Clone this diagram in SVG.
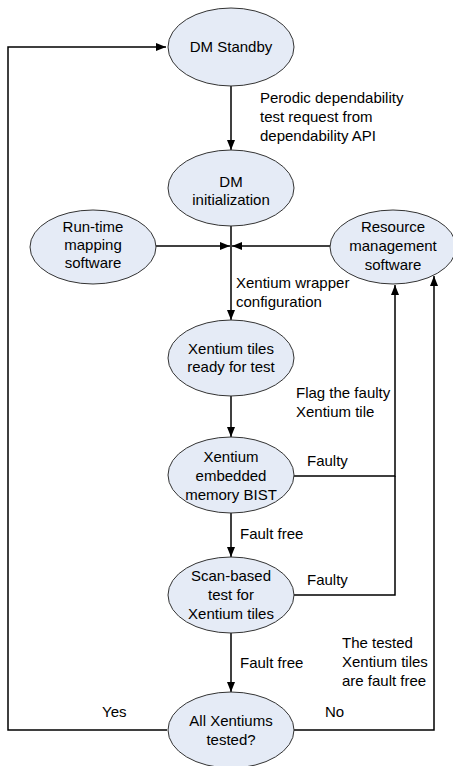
<svg xmlns="http://www.w3.org/2000/svg" width="453" height="766" viewBox="0 0 453 766">
<defs>
<marker id="arr" markerWidth="10" markerHeight="8" refX="10" refY="4" orient="auto" markerUnits="userSpaceOnUse">
<path d="M0,0 L10,4 L0,8 z" fill="#000"/>
</marker>
<style>
.node ellipse{fill:#e5ebf6;stroke:#333;stroke-width:1}
text{font-family:"Liberation Sans",Arial,sans-serif;font-size:15px;fill:#000}
.node text{text-anchor:middle}
.conn path{fill:none;stroke:#000;stroke-width:1.5}
.arrow{marker-end:url(#arr)}
</style>
</defs>
<rect width="453" height="766" fill="#fff"/>
<g id="connectors" class="conn">
<path class="arrow" d="M167,730 H8 V47 H166"/>
<path class="arrow" d="M231,86 V150"/>
<path class="arrow" d="M231,226 V320"/>
<path class="arrow" d="M156,246 H230"/>
<path class="arrow" d="M331,246 H232"/>
<path class="arrow" d="M231,396 V437"/>
<path class="arrow" d="M231,513 V557"/>
<path class="arrow" d="M231,633 V692"/>
<path class="arrow" d="M294,476 H395 V285"/>
<path d="M294,595 H395 V476"/>
<path class="arrow" d="M294,730 H434 V276"/>
</g>
<g id="labels">
<text x="260" y="103">Perodic dependability</text>
<text x="260" y="122">test request from</text>
<text x="260" y="141">dependability API</text>
<text x="236" y="288">Xentium wrapper</text>
<text x="236" y="307">configuration</text>
<text x="296" y="398">Flag the faulty</text>
<text x="296" y="417">Xentium tile</text>
<text x="307" y="466">Faulty</text>
<text x="240" y="539">Fault free</text>
<text x="307" y="585">Faulty</text>
<text x="240" y="668">Fault free</text>
<text x="342" y="648">The tested</text>
<text x="342" y="667">Xentium tiles</text>
<text x="342" y="686">are fault free</text>
<text x="102" y="717">Yes</text>
<text x="325" y="717">No</text>
</g>
<g id="dm-standby" class="node">
<ellipse cx="231" cy="47" rx="63" ry="39"/>
<text x="231" y="52">DM Standby</text>
</g>
<g id="dm-init" class="node">
<ellipse cx="231" cy="188" rx="63" ry="38"/>
<text x="231" y="187">DM</text>
<text x="231" y="205">initialization</text>
</g>
<g id="runtime" class="node">
<ellipse cx="93" cy="247" rx="63" ry="37"/>
<text x="93" y="232">Run-time</text>
<text x="93" y="250">mapping</text>
<text x="93" y="268">software</text>
</g>
<g id="resource" class="node">
<ellipse cx="393" cy="247" rx="63" ry="37"/>
<text x="393" y="232">Resource</text>
<text x="393" y="251">management</text>
<text x="393" y="270">software</text>
</g>
<g id="tiles-ready" class="node">
<ellipse cx="231" cy="358" rx="63" ry="38"/>
<text x="231" y="354">Xentium tiles</text>
<text x="231" y="372">ready for test</text>
</g>
<g id="mem-bist" class="node">
<ellipse cx="231" cy="475" rx="63" ry="38"/>
<text x="231" y="462">Xentium</text>
<text x="231" y="481">embedded</text>
<text x="231" y="500">memory BIST</text>
</g>
<g id="scan-test" class="node">
<ellipse cx="231" cy="595" rx="63" ry="38"/>
<text x="231" y="581">Scan-based</text>
<text x="231" y="600">test for</text>
<text x="231" y="619">Xentium tiles</text>
</g>
<g id="all-tested" class="node">
<ellipse cx="231" cy="730" rx="63" ry="38"/>
<text x="231" y="726">All Xentiums</text>
<text x="231" y="745">tested?</text>
</g>
</svg>
